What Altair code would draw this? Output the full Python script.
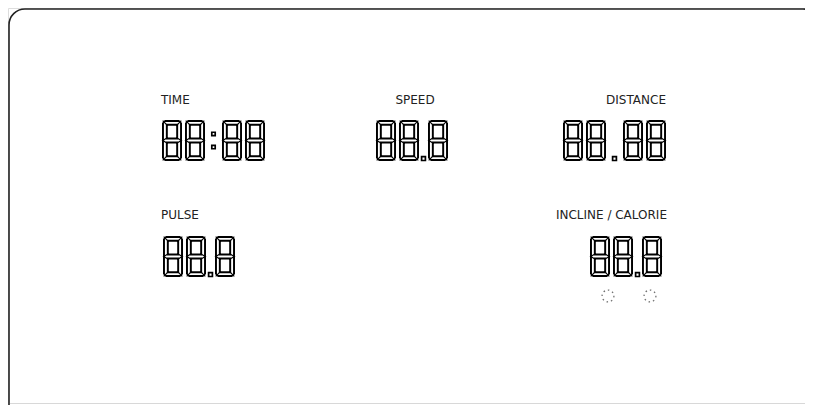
import altair as alt
import pandas as pd

# ---- content -------------------------------------------------------------
labels = ["TIME", "SPEED", "DISTANCE", "PULSE", "INCLINE / CALORIE"]
readouts = ["88:88", "88.8", "88.88", "88.8", "88.8"]
indicator_count = 2

# ---- layout (page pixel coordinates) ------------------------------------
label_x = [161, 415, 666, 161, 667]
label_y = [100, 100, 100, 215, 215]
label_align = ["left", "center", "right", "left", "right"]
readout_x = [162, 376, 563, 163, 590]
readout_y = [120, 120, 120, 236, 236]
sep_width = [17, 9, 17, 9, 9]
indicator_x = [608, 650]
indicator_y = [296, 296]

DW, DH, T, LW, PITCH = 20, 41, 5.8, 1.95, 23


def square(cx, cy, s):
    return [(cx - s / 2, cy - s / 2), (cx + s / 2, cy - s / 2),
            (cx + s / 2, cy + s / 2), (cx - s / 2, cy + s / 2)]


def digit_skeleton(x0, y0):
    h = T / 2
    loop = [(x0 + h, y0 + h), (x0 + DW - h, y0 + h),
            (x0 + DW - h, y0 + DH - h), (x0 + h, y0 + DH - h)]
    bar = [(x0 + h, y0 + DH / 2), (x0 + DW - h, y0 + DH / 2)]
    return [loop, bar]


def digit_notches(x0, y0):
    ym = y0 + DH / 2
    o = 0.7
    return [
        [(x0 + o, y0 + o), (x0 + T, y0 + T)],
        [(x0 + DW - o, y0 + o), (x0 + DW - T, y0 + T)],
        [(x0 + o, y0 + DH - o), (x0 + T, y0 + DH - T)],
        [(x0 + DW - o, y0 + DH - o), (x0 + DW - T, y0 + DH - T)],
        [(x0 + T, ym - T / 2), (x0 + o, ym), (x0 + T, ym + T / 2)],
        [(x0 + DW - T, ym - T / 2), (x0 + DW - o, ym), (x0 + DW - T, ym + T / 2)],
    ]


skel, notch, dots = [], [], []


def add(store, polys):
    for poly in polys:
        pid = len({r["pid"] for r in store})
        for k, (px, py) in enumerate(poly):
            store.append({"x": px, "y": py, "pid": pid, "k": k})


for text, x0, y0, sw in zip(readouts, readout_x, readout_y, sep_width):
    x = x0
    prev_digit = False
    for ch in text:
        if ch.isdigit():
            if prev_digit:
                x += PITCH - DW
            add(skel, digit_skeleton(x, y0))
            add(notch, digit_notches(x, y0))
            x += DW
            prev_digit = True
        else:
            cx = x + sw / 2
            if ch == ":":
                add(dots, [square(cx, y0 + DH * 0.34, 3.4), square(cx, y0 + DH * 0.66, 3.4)])
            else:
                add(dots, [square(cx, y0 + DH - 2.4, 3.8)])
            x += sw
            prev_digit = False

skel_df = pd.DataFrame(skel)
notch_df = pd.DataFrame(notch)
dots_df = pd.DataFrame(dots)

xs = alt.Scale(domain=[8, 805], range=[0, 797])
ys = alt.Scale(domain=[8, 405], range=[0, 397])


def enc(ch):
    return ch.encode(
        x=alt.X("x:Q", scale=xs, axis=None),
        y=alt.Y("y:Q", scale=ys, axis=None),
        detail="pid:N",
        order="k:Q",
    )


seg_black = enc(alt.Chart(skel_df).mark_line(
    interpolate="linear-closed", color="#000", strokeWidth=T, strokeJoin="bevel"))
seg_white = enc(alt.Chart(skel_df).mark_line(
    interpolate="linear-closed", color="#fff", strokeWidth=T - 2 * LW, strokeJoin="bevel"))
notches = enc(alt.Chart(notch_df).mark_line(color="#000", strokeWidth=1.2))
dot_marks = enc(alt.Chart(dots_df).mark_line(
    interpolate="linear-closed", color="#000", strokeWidth=1.7))

frame_df = pd.DataFrame({"x": [9], "x2": [819], "y": [9], "y2": [420]})
frame = alt.Chart(frame_df).mark_rect(
    cornerRadius=16, fillOpacity=0, stroke="#222", strokeWidth=1.6, clip=True
).encode(
    x=alt.X("x:Q", scale=xs, axis=None), x2="x2:Q",
    y=alt.Y("y:Q", scale=ys, axis=None), y2="y2:Q",
)

base_df = pd.DataFrame({"x": [10], "x2": [805], "y": [403.5]})
baseline = alt.Chart(base_df).mark_rule(color="#d8d8d8", strokeWidth=1).encode(
    x=alt.X("x:Q", scale=xs, axis=None), x2="x2:Q",
    y=alt.Y("y:Q", scale=ys, axis=None),
)

text_layers = []
for lab, lx, ly, la in zip(labels, label_x, label_y, label_align):
    df = pd.DataFrame({"x": [lx], "y": [ly], "t": [lab]})
    text_layers.append(
        alt.Chart(df).mark_text(
            align=la, baseline="middle", font="DejaVu Sans", fontSize=12, color="#222"
        ).encode(
            x=alt.X("x:Q", scale=xs, axis=None),
            y=alt.Y("y:Q", scale=ys, axis=None),
            text="t:N",
        )
    )

ind_df = pd.DataFrame({"x": indicator_x[:indicator_count], "y": indicator_y[:indicator_count]})
indicators = alt.Chart(ind_df).mark_point(
    shape="circle", size=140, filled=False, stroke="#333", strokeWidth=1.3,
    strokeDash=[1.5, 3]
).encode(
    x=alt.X("x:Q", scale=xs, axis=None),
    y=alt.Y("y:Q", scale=ys, axis=None),
)

chart = alt.layer(
    frame, baseline, seg_black, seg_white, notches, dot_marks, indicators, *text_layers
).properties(
    width=797, height=397, padding=0, autosize=alt.AutoSizeParams(type="none")
).configure_view(stroke=None).configure(background="white")

chart.save("out.html", embed_options={"renderer": "svg", "actions": False})
